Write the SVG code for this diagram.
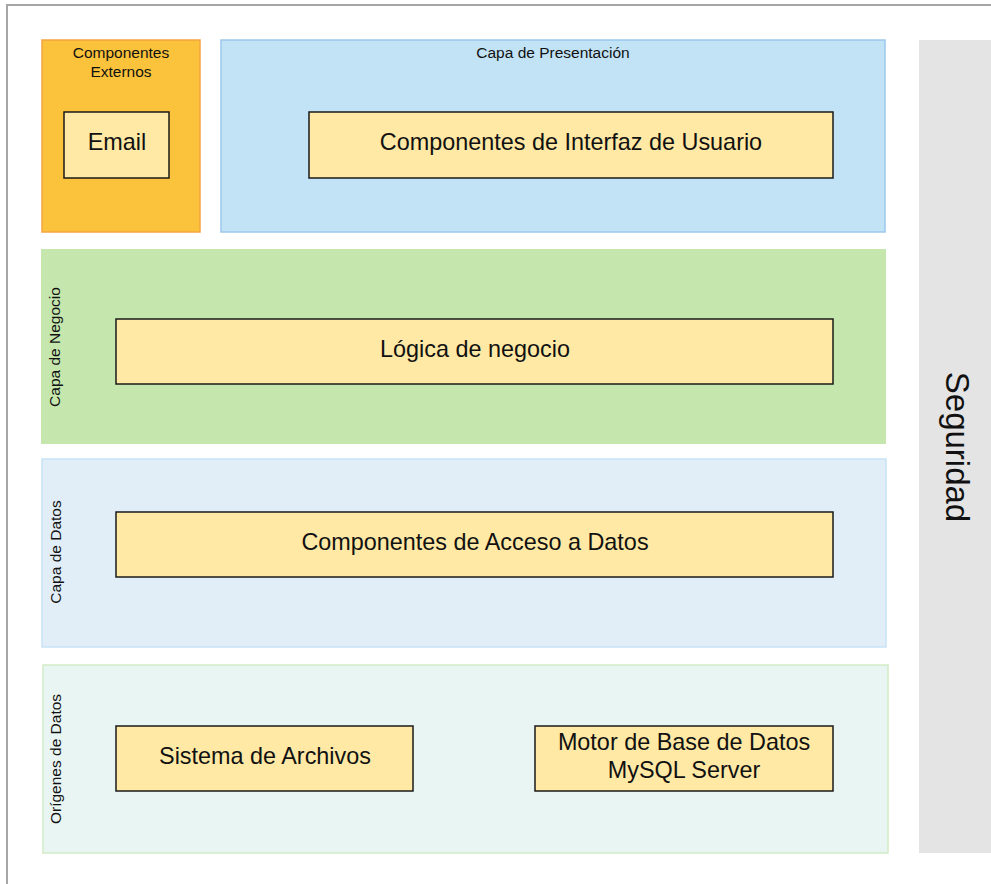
<svg xmlns="http://www.w3.org/2000/svg" width="991" height="884" viewBox="0 0 991 884">
<style>
text{font-family:"Liberation Sans",Arial,sans-serif;fill:#111}
.comp{fill:#ffe9a5;stroke:#1a1a1a;stroke-width:1.5}
.ct{font-size:23.4px;text-anchor:middle;dominant-baseline:central}
.lbl{font-size:15.5px;text-anchor:middle;dominant-baseline:central}
</style>
<rect x="7" y="5" width="1000" height="900" fill="#fff" stroke="#a6a6a6" stroke-width="2"/>
<g id="externos">
<rect x="42" y="40" width="158" height="192" fill="#fbc23b" stroke="#f5a442" stroke-width="1.5"/>
<text class="lbl" x="121" y="52">Componentes</text>
<text class="lbl" x="121" y="71">Externos</text>
</g>
<g id="presentacion">
<rect x="221" y="40" width="664" height="192" fill="#c1e3f5" stroke="#9ac8ec" stroke-width="1.5"/>
<text class="lbl" x="553" y="52">Capa de Presentación</text>
</g>
<g id="seguridad">
<rect x="919" y="40" width="80" height="813" fill="#e4e4e4"/>
<text x="957" y="447" font-size="33" text-anchor="middle" dominant-baseline="central" transform="rotate(90 957 447)">Seguridad</text>
</g>
<g id="negocio">
<rect x="41" y="249" width="845" height="195" fill="#c5e6ad"/>
<text class="lbl" x="54" y="347" transform="rotate(-90 54 347)">Capa de Negocio</text>
</g>
<g id="datos">
<rect x="42" y="459" width="844" height="188" fill="#e1eef8" stroke="#c8e3f6" stroke-width="1.5"/>
<text class="lbl" x="55" y="552" transform="rotate(-90 55 552)">Capa de Datos</text>
</g>
<g id="origenes">
<rect x="43" y="665" width="845" height="188" fill="#e8f5f3" stroke="#d2ecc6" stroke-width="1.5"/>
<text class="lbl" x="55" y="759" transform="rotate(-90 55 759)">Orígenes de Datos</text>
</g>
<g id="email">
<rect class="comp" x="64" y="112" width="105" height="66"/>
<text class="ct" x="117" y="142">Email</text>
</g>
<g id="interfaz">
<rect class="comp" x="309" y="112" width="524" height="66"/>
<text class="ct" x="571" y="142">Componentes de Interfaz de Usuario</text>
</g>
<g id="logica">
<rect class="comp" x="116" y="319" width="717" height="65"/>
<text class="ct" x="475" y="349">Lógica de negocio</text>
</g>
<g id="acceso">
<rect class="comp" x="116" y="512" width="717" height="65"/>
<text class="ct" x="475" y="542">Componentes de Acceso a Datos</text>
</g>
<g id="archivos">
<rect class="comp" x="116" y="726" width="297" height="65"/>
<text class="ct" x="265" y="756">Sistema de Archivos</text>
</g>
<g id="motor">
<rect class="comp" x="535" y="726" width="298" height="65"/>
<text class="ct" x="684" y="742">Motor de Base de Datos</text>
<text class="ct" x="684" y="770">MySQL Server</text>
</g>
<g id="connectors"/>
</svg>
